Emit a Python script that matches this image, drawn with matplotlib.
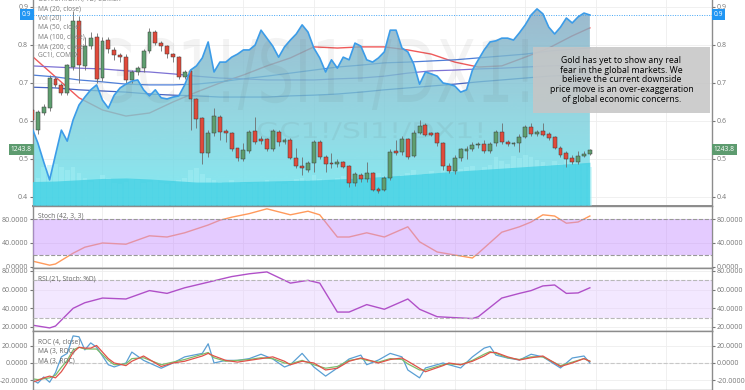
import numpy as np
import matplotlib.pyplot as plt
import matplotlib.transforms as mtransforms
from matplotlib.patches import Rectangle, PathPatch
from matplotlib.textpath import TextPath
from matplotlib.font_manager import FontProperties
from matplotlib.ticker import FormatStrFormatter
from matplotlib.transforms import Bbox, TransformedBbox

plt.rcParams['font.family'] = ['Open Sans', 'DejaVu Sans']

# GC1! daily candles (in the scale of the ratio panel)
opens = [0.629, 0.576, 0.621, 0.634, 0.711, 0.695, 0.674, 0.742, 0.863, 0.745,
         0.797, 0.821, 0.713, 0.813, 0.787, 0.774, 0.768, 0.708, 0.729, 0.739,
         0.784, 0.834, 0.805, 0.797, 0.776, 0.768, 0.716, 0.732, 0.658, 0.608,
         0.516, 0.568, 0.611, 0.574, 0.568, 0.529, 0.500, 0.521, 0.574, 0.553,
         0.553, 0.526, 0.571, 0.545, 0.550, 0.503, 0.482, 0.471, 0.489, 0.545,
         0.505, 0.489, 0.487, 0.492, 0.482, 0.437, 0.458, 0.447, 0.463, 0.421,
         0.418, 0.450, 0.521, 0.518, 0.553, 0.508, 0.568, 0.589, 0.568, 0.568,
         0.542, 0.482, 0.468, 0.503, 0.521, 0.526, 0.537, 0.539, 0.521, 0.542,
         0.571, 0.545, 0.539, 0.542, 0.558, 0.584, 0.566, 0.574, 0.566, 0.558,
         0.529, 0.516, 0.503, 0.492, 0.508, 0.513]
highs = [0.640, 0.630, 0.645, 0.720, 0.715, 0.700, 0.750, 0.890, 0.875, 0.820,
         0.834, 0.832, 0.820, 0.820, 0.795, 0.780, 0.775, 0.735, 0.745, 0.790,
         0.845, 0.840, 0.810, 0.800, 0.780, 0.770, 0.735, 0.735, 0.660, 0.610,
         0.575, 0.634, 0.615, 0.580, 0.570, 0.530, 0.542, 0.575, 0.611, 0.560,
         0.555, 0.580, 0.575, 0.555, 0.555, 0.529, 0.505, 0.495, 0.550, 0.550,
         0.510, 0.516, 0.500, 0.495, 0.485, 0.465, 0.462, 0.492, 0.465, 0.425,
         0.455, 0.525, 0.550, 0.560, 0.555, 0.575, 0.603, 0.595, 0.570, 0.570,
         0.545, 0.490, 0.510, 0.530, 0.535, 0.545, 0.545, 0.550, 0.545, 0.575,
         0.595, 0.550, 0.545, 0.565, 0.590, 0.595, 0.575, 0.595, 0.570, 0.560,
         0.535, 0.520, 0.510, 0.520, 0.520, 0.527]
lows = [0.600, 0.565, 0.615, 0.625, 0.690, 0.668, 0.668, 0.735, 0.700, 0.735,
        0.790, 0.700, 0.705, 0.780, 0.761, 0.755, 0.700, 0.700, 0.720, 0.730,
        0.780, 0.800, 0.785, 0.765, 0.755, 0.710, 0.710, 0.575, 0.582, 0.487,
        0.505, 0.560, 0.550, 0.545, 0.520, 0.495, 0.495, 0.515, 0.540, 0.540,
        0.520, 0.520, 0.535, 0.540, 0.500, 0.476, 0.458, 0.465, 0.466, 0.500,
        0.466, 0.476, 0.480, 0.475, 0.426, 0.430, 0.440, 0.440, 0.415, 0.410,
        0.415, 0.445, 0.510, 0.510, 0.500, 0.505, 0.565, 0.560, 0.560, 0.535,
        0.470, 0.462, 0.460, 0.495, 0.500, 0.520, 0.530, 0.515, 0.515, 0.535,
        0.540, 0.535, 0.535, 0.518, 0.555, 0.560, 0.560, 0.560, 0.550, 0.525,
        0.505, 0.479, 0.488, 0.488, 0.505, 0.510]
closes = [0.603, 0.624, 0.637, 0.713, 0.695, 0.674, 0.747, 0.863, 0.747, 0.797,
          0.818, 0.711, 0.811, 0.789, 0.774, 0.768, 0.708, 0.729, 0.739, 0.784,
          0.834, 0.805, 0.797, 0.776, 0.768, 0.716, 0.729, 0.658, 0.605, 0.516,
          0.568, 0.613, 0.571, 0.568, 0.526, 0.503, 0.524, 0.571, 0.545, 0.547,
          0.526, 0.574, 0.545, 0.550, 0.503, 0.482, 0.476, 0.489, 0.545, 0.505,
          0.487, 0.487, 0.492, 0.479, 0.437, 0.461, 0.447, 0.463, 0.418, 0.416,
          0.450, 0.518, 0.516, 0.553, 0.505, 0.568, 0.587, 0.563, 0.563, 0.542,
          0.482, 0.468, 0.503, 0.526, 0.526, 0.537, 0.539, 0.521, 0.539, 0.571,
          0.545, 0.539, 0.542, 0.558, 0.584, 0.566, 0.571, 0.563, 0.555, 0.529,
          0.511, 0.500, 0.492, 0.508, 0.513, 0.524]
gold_last = 1243.8

# GC1!/SI1!/DX1! ratio (area series)
ratio = [0.582, 0.542, 0.492, 0.445, 0.511, 0.576, 0.547, 0.603, 0.642, 0.663,
         0.682, 0.695, 0.655, 0.634, 0.668, 0.687, 0.697, 0.705, 0.708, 0.682,
         0.666, 0.682, 0.661, 0.658, 0.663, 0.666, 0.695, 0.734, 0.745, 0.766,
         0.808, 0.729, 0.755, 0.755, 0.768, 0.776, 0.787, 0.787, 0.800, 0.839,
         0.818, 0.797, 0.768, 0.795, 0.813, 0.829, 0.853, 0.834, 0.792, 0.766,
         0.729, 0.761, 0.739, 0.768, 0.761, 0.805, 0.797, 0.761, 0.755, 0.766,
         0.782, 0.839, 0.839, 0.792, 0.782, 0.750, 0.697, 0.729, 0.724, 0.718,
         0.700, 0.697, 0.692, 0.676, 0.682, 0.734, 0.761, 0.787, 0.808, 0.811,
         0.818, 0.818, 0.813, 0.832, 0.853, 0.879, 0.895, 0.882, 0.847, 0.829,
         0.847, 0.871, 0.858, 0.874, 0.884, 0.879]

# volume (thousands) and its 20-day average
volume = [90, 110, 150, 160, 165, 150, 140, 150, 130, 110,
          95, 100, 120, 110, 90, 85, 95, 105, 100, 90,
          95, 100, 90, 85, 90, 100, 110, 140, 148, 125,
          110, 100, 95, 90, 100, 95, 90, 85, 90, 95,
          100, 95, 90, 85, 95, 105, 110, 100, 120, 105,
          100, 95, 110, 115, 125, 110, 105, 115, 120, 130,
          115, 125, 110, 120, 130, 140, 125, 120, 135, 130,
          150, 140, 130, 145, 150, 155, 140, 150, 160, 190,
          175, 165, 195, 185, 200, 190, 180, 170, 160, 175,
          165, 180, 170, 175, 160, 150]

# moving averages, sampled every 4 bars
ma_bars = list(range(0, 96, 4)) + [95]
ma20 = [0.771, 0.716, 0.661, 0.629, 0.613, 0.621, 0.650, 0.676, 0.700, 0.721,
        0.745, 0.766, 0.795, 0.792, 0.795, 0.795, 0.787, 0.776, 0.755, 0.742,
        0.745, 0.768, 0.792, 0.824, 0.845]
ma50 = [0.721, 0.716, 0.708, 0.703, 0.697, 0.695, 0.695, 0.697, 0.703, 0.711,
        0.718, 0.726, 0.734, 0.742, 0.747, 0.753, 0.755, 0.758, 0.761, 0.766,
        0.771, 0.776, 0.784, 0.789, 0.792]
ma100 = [0.745, 0.742, 0.739, 0.737, 0.732, 0.729, 0.724, 0.718, 0.713, 0.711,
         0.708, 0.708, 0.708, 0.711, 0.713, 0.718, 0.726, 0.732, 0.734, 0.737,
         0.739, 0.742, 0.745, 0.747, 0.747]
ma200 = [0.689, 0.687, 0.682, 0.679, 0.676, 0.671, 0.668, 0.666, 0.663, 0.663,
         0.663, 0.666, 0.668, 0.671, 0.676, 0.682, 0.687, 0.692, 0.697, 0.703,
         0.708, 0.713, 0.718, 0.721, 0.724]
vol_ma = [95, 97, 102, 107, 109, 105, 99, 93, 93, 95, 97, 99, 101, 105, 109,
          115, 121, 128, 135, 141, 147, 153, 159, 165, 170]

# oscillators
osc_bars = [0, 3, 4, 7, 9, 12, 16, 20, 23, 26, 30, 32, 34, 35, 37, 40, 44, 47, 49,
            52, 54, 57, 60, 64, 66, 69, 72, 75, 76, 80, 83, 85, 87, 89, 91, 93, 95]
stoch = [10, 3, 5, 23, 33, 40, 38, 52, 50, 57, 70, 78, 83, 85, 89, 97, 87, 93, 87,
         50, 50, 57, 50, 67, 42, 25, 20, 15, 23, 58, 67, 75, 87, 85, 73, 75, 85]
rsi = [22, 19, 21, 40, 46, 51, 50, 59, 56, 62, 68, 71, 74, 75, 77, 79, 67, 70, 67,
       36, 36, 44, 39, 50, 39, 31, 30, 29, 31, 51, 56, 59, 64, 65, 56, 56.5, 62]

roc_bars = [0, 1, 2, 3, 4, 5, 6, 7, 8, 9, 10, 11, 13, 14, 16, 17, 19, 22, 24, 26,
            29, 30, 31, 33, 35, 37, 39, 41, 43, 44, 46, 48, 50, 52, 54, 56, 57, 59,
            61, 63, 64, 66, 67, 70, 71, 73, 75, 77, 78, 79, 81, 83, 85, 87, 90, 92,
            94, 95]
roc = [-19, -23, -16, -22, -11, 7, 11, 31, 30, 15, 23, 18, -2, -4.5, 0, 12.5, 3, -6,
       0, 7, 11, 22, 0, 3, 3, 5, 10, 4.6, -4.6, -2, 11, -4.6, -15, -5.7, 4.6, 9, -2,
       3.4, 11, 7, -8, -17, -5.7, 0, -2, -5.7, 7, 17, 19, 9, 5.7, 3.4, 10, 7, -5.7,
       5.7, 8, 0]
roc_ma_a = [-18, -19, -18, -17, -14, -5, 3, 15, 18, 16, 16, 16, 3, -2, -1, 5, 6, -2,
            1, 4, 10, 12, 6, 2, 3, 4, 6, 5, 0, -1, 3, -2, -6, -4, 3, 5, 3, 1, 5, 4,
            -1, -8, -8, -2, -1, -2, 3, 10, 13, 11, 6, 4, 7, 7, -3, 1, 5, 2]
roc_ma_b = [-22, -20, -17, -15, -17, -10, 0, 12, 18, 17, 17, 20, 5, 0, -3, 2, 8, -4,
            0, 2, 8, 11, 8, 3, 1, 3, 5, 7, 2, -2, 2, 0, -8, -6, 2, 5.7, 4, 0, 4, 5.7,
            2, -6, -10, -3, 0, -2, 2, 8, 12, 12, 7, 3.4, 6, 8, -4, 0, 5, 2]

note = ("Gold has yet to show any real\nfear in the global markets. We\n"
        "believe the current downside\nprice move is an over-exaggeration\n"
        "of global economic concerns.")

opens, highs, lows, closes = map(np.array, (opens, highs, lows, closes))
x = np.arange(len(closes))

fig = plt.figure(figsize=(7.45, 3.9), dpi=100)
left, width = 33 / 745, 679 / 745
ax = fig.add_axes([left, 184 / 390, width, 206 / 390])
ax_st = fig.add_axes([left, 122 / 390, width, 62 / 390])
ax_rsi = fig.add_axes([left, 59 / 390, width, 63 / 390])
ax_roc = fig.add_axes([left, 0, width, 59 / 390])


def style(a, ticks, fmt, ylim):
    a.set_xlim(0.17, 115.8)
    a.set_ylim(*ylim)
    a.set_xticks(np.arange(12, 115, 12))
    a.set_yticks(ticks)
    a.yaxis.set_major_formatter(FormatStrFormatter(fmt))
    a.tick_params(axis='x', length=0, labelbottom=False)
    a.tick_params(axis='y', labelsize=5, colors='#777777', length=2, pad=1.5,
                  left=True, right=True, labelleft=True, labelright=True)
    a.grid(color='#eeeeee', lw=0.6)
    a.set_axisbelow(True)
    for s in a.spines.values():
        s.set_color('#8c8c8c')
        s.set_linewidth(1.0)


ylo, yhi = 0.3763, 0.9184
style(ax, [0.4, 0.5, 0.6, 0.7, 0.8, 0.9], '%.1f', (ylo, yhi))
ax.spines['top'].set_visible(False)
ax.spines['bottom'].set_linewidth(1.4)
ax_st.spines['bottom'].set_linewidth(1.4)
ax_rsi.spines['bottom'].set_linewidth(1.4)

# moving averages sit under the area fill
ax.plot(ma_bars, ma20, color='#f05a5a', lw=1.0, zorder=1)
ax.plot(ma_bars, ma50, color='#4f7fd8', lw=0.9, zorder=1)
ax.plot(ma_bars, ma100, color='#7d72d4', lw=0.9, zorder=1)
ax.plot(ma_bars, ma200, color='#4664c4', lw=0.9, zorder=1)

# gradient area under the ratio line
poly = ax.fill_between(x, ratio, ylo, color='none', lw=0)
stops_v = [ylo, 0.6, yhi]
stops_c = np.array([[0.40, 0.90, 0.94], [0.475, 0.81, 0.86], [0.525, 0.65, 0.75]])
vv = np.linspace(ylo, yhi, 256)
img = np.ones((256, 1, 4))
for k in range(3):
    img[:, 0, k] = np.interp(vv, stops_v, stops_c[:, k])
img[:, 0, 3] = 0.8
im = ax.imshow(img, extent=[0, x[-1], ylo, yhi], origin='lower', aspect='auto', zorder=2)
im.set_clip_path(poly.get_paths()[0], transform=ax.transData)

# volume in its own scale at the bottom of the panel
vol_tr = mtransforms.Affine2D().scale(1, 1 / 800) + \
    mtransforms.blended_transform_factory(ax.transData, ax.transAxes)
ax.bar(x, volume, 0.8, color='#a6f0f5', alpha=0.45, lw=0, transform=vol_tr, zorder=3)
ax.fill_between(ma_bars, vol_ma, 0, color='#3ecfe3', alpha=0.75, lw=0,
                transform=vol_tr, zorder=3.2)


def watermark(a, text, box, alpha):
    tp = TextPath((0, 0), text, size=1, prop=FontProperties(family='DejaVu Sans'))
    bb = tp.get_extents()
    x0, y0, x1, y1 = box
    tr = (mtransforms.Affine2D().translate(-bb.x0, -bb.y0)
          .scale((x1 - x0) / bb.width, (y1 - y0) / bb.height)
          .translate(x0, y0) + a.transAxes)
    a.add_patch(PathPatch(tp, transform=tr, fc='#555555', ec='none', alpha=alpha, zorder=3.6))


watermark(ax, 'GC1!/SI1!/DX1!', (0.091, 0.466, 0.729, 0.816), 0.07)
watermark(ax, 'GC1!/SI1!/DX1!', (0.331, 0.320, 0.661, 0.408), 0.08)

# candles
up = closes >= opens
body_lo = np.minimum(opens, closes)
body_h = np.maximum(np.abs(closes - opens), 0.0018)
ax.vlines(x, lows, highs, color='#6e6e6e', lw=0.6, zorder=4)
ax.bar(x, body_h, 0.66, bottom=body_lo, color=np.where(up, '#5e9e6f', '#e04a3b'),
       edgecolor='#3a3a3a', lw=0.35, zorder=4.5)

# ratio line and last value line
ax.plot(x, ratio, color='#3c9ce8', lw=1.2, zorder=5)
ax.axhline(ratio[-1], color='#42a5f5', lw=0.7, ls=(0, (1, 1.5)), zorder=5)

ybl = mtransforms.blended_transform_factory(ax.transAxes, ax.transData)
for xa, ha in ((-1.5 / 679, 'right'), (1 + 1.5 / 679, 'left')):
    ax.text(xa, ratio[-1], f'{ratio[-1]:.1f}', transform=ybl, ha=ha, va='center',
            fontsize=4.8, color='white', zorder=10, clip_on=False,
            bbox=dict(boxstyle='square,pad=0.3', fc='#2196f3', ec='none'))
    ax.text(xa, closes[-1], f'{gold_last:.1f}', transform=ybl, ha=ha, va='center',
            fontsize=4.8, color='white', zorder=10, clip_on=False,
            bbox=dict(boxstyle='square,pad=0.3', fc='#5d9b6f', ec='none'))

legend_lines = ['GC1!/SI1!/DX1!, 1D, COMEX', 'MA (20, close)', 'Vol (20)',
                'MA (50, close)', 'MA (100, close)', 'MA (200, close)', 'GC1!, COMEX']
for k, t in enumerate(legend_lines):
    ax.text(5 / 679, 1 - (-1 + 9.5 * k) / 206, t, transform=ax.transAxes, fontsize=4.8,
            color='#7a7a7a', va='center', ha='left', zorder=9, clip_on=True)

ax.add_patch(Rectangle((0.7364, 0.4515), 0.2606, 0.3205, transform=ax.transAxes,
                       fc='#c6c6c6', ec='none', alpha=0.88, zorder=7))
ax.text(0.8667, 0.612, note, transform=ax.transAxes, ha='center', va='center',
        multialignment='center', fontsize=6.3, linespacing=1.1, color='black', zorder=8)

# Stoch panel
style(ax_st, [0, 40, 80], '%.4f', (-1.7, 101.7))
ax_st.plot(osc_bars, stoch, color='#ff9a5c', lw=1.0, zorder=2)
ax_st.axhspan(20, 80, fc='#c48cff', alpha=0.45, lw=0, zorder=3)
for lv in (20, 80):
    ax_st.axhline(lv, color='#999999', lw=0.8, ls='--', zorder=4)
ax_st.text(5 / 679, 1 - 10 / 62, 'Stoch (42, 3, 3)', transform=ax_st.transAxes,
           fontsize=4.8, color='#666666', va='center', zorder=9)

# RSI panel
style(ax_rsi, [20, 40, 60, 80], '%.4f', (15.7, 83.2))
ax_rsi.axhspan(30, 70, fc='#e6ccff', alpha=0.45, lw=0, zorder=1.5)
ax_rsi.plot(osc_bars, rsi, color='#b050c8', lw=1.0, zorder=2)
for lv in (30, 70):
    ax_rsi.axhline(lv, color='#b8b8b8', lw=0.8, ls='--', zorder=4)
ax_rsi.text(5 / 679, 1 - 11 / 63, 'RSI (21, Stoch: %D)', transform=ax_rsi.transAxes,
            fontsize=4.8, color='#666666', va='center', zorder=9)

# ROC panel
style(ax_roc, [-20, 0, 20], '%.4f', (-30.9, 36.6))
ax_roc.axhline(0, color='#c8c8c8', lw=0.8, ls='--', zorder=1.5)
ax_roc.plot(roc_bars, roc, color='#5a9fd4', lw=0.9, zorder=2)
ax_roc.plot(roc_bars, roc_ma_a, color='#7dbd6a', lw=0.9, zorder=2.1)
ax_roc.plot(roc_bars, roc_ma_b, color='#e0524a', lw=0.9, zorder=2.2)
for k, t in enumerate(['ROC (4, close)', 'MA (3, ROC)', 'MA (3, ROC)']):
    ax_roc.text(5 / 679, 1 - (11 + 9.5 * k) / 59, t, transform=ax_roc.transAxes,
                fontsize=4.8, color='#666666', va='center', zorder=9)

# tick labels are cut at the panel edges, like in the app
for a in (ax, ax_st, ax_rsi, ax_roc):
    clip = TransformedBbox(Bbox([[-0.06, 0], [1.06, 1]]), a.transAxes)
    for t in a.yaxis.get_major_ticks():
        for lab in (t.label1, t.label2):
            lab.set_clip_box(clip)
            lab.set_clip_on(True)

fig.savefig('out.png', dpi=100)
